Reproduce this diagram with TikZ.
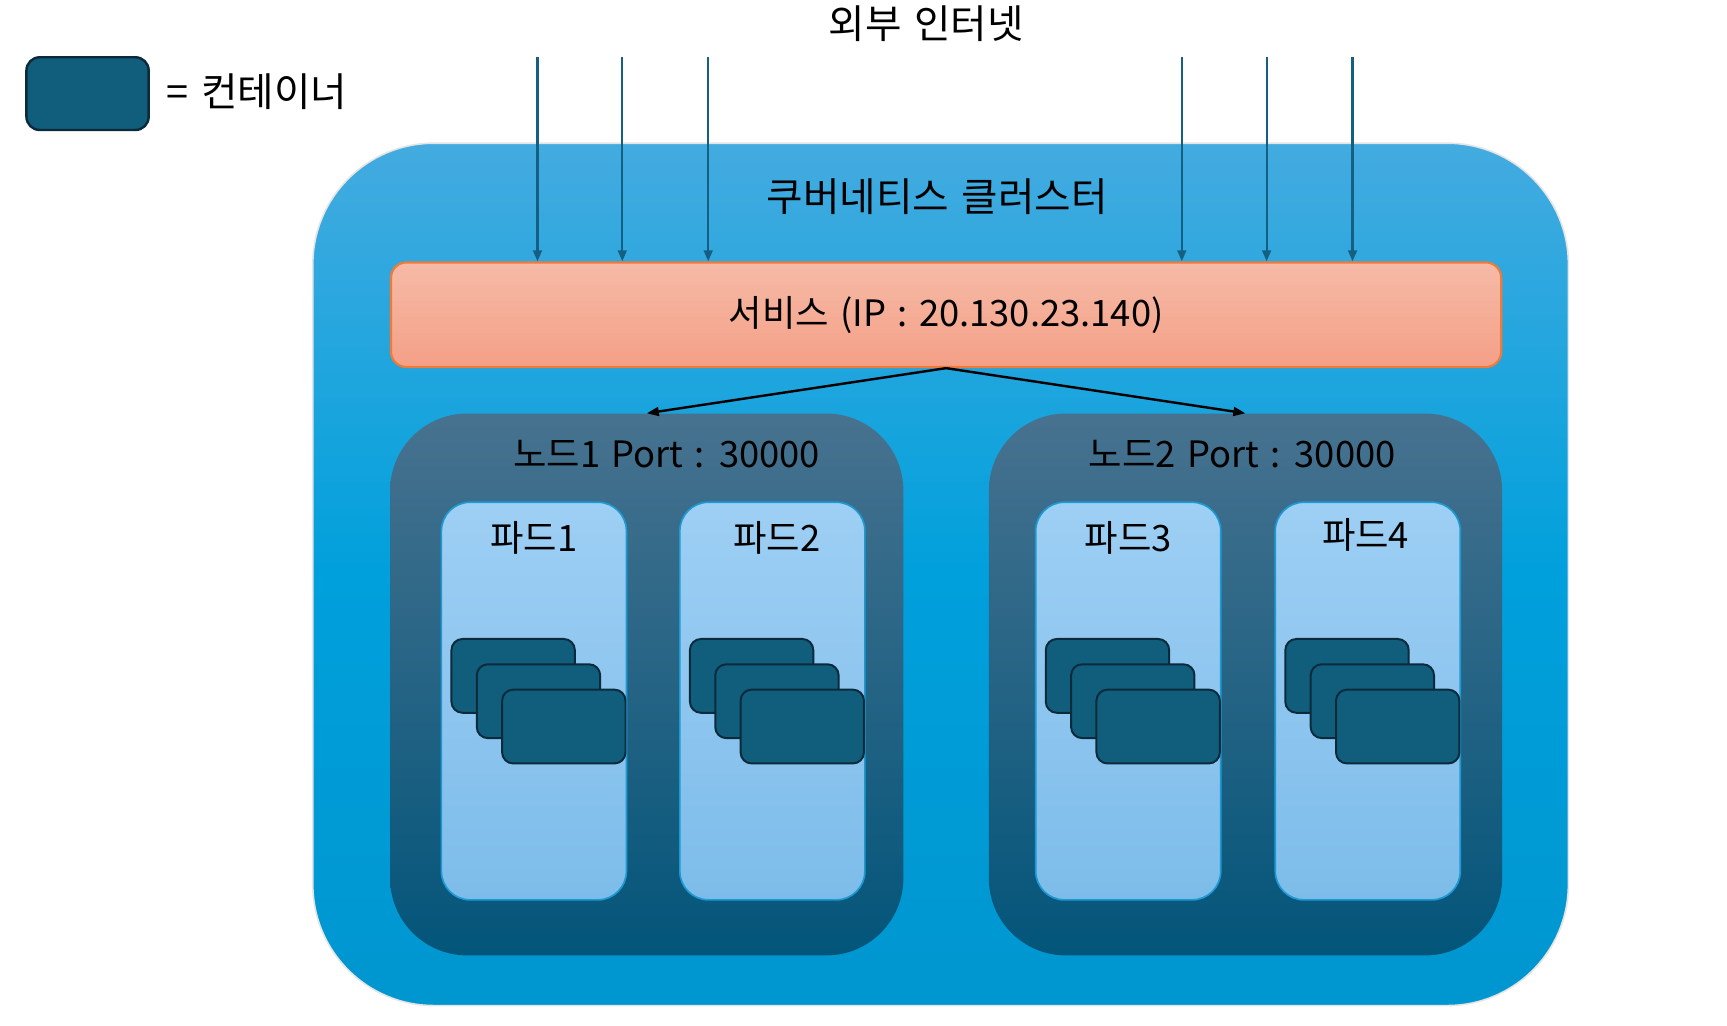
\documentclass[tikz,border=0pt]{standalone}
\usepackage{fontspec}
\setmainfont[WordSpace=1.4]{Noto Sans CJK KR}
\usetikzlibrary{arrows.meta,positioning}

\definecolor{cltop}{HTML}{43ABE0}
\definecolor{clmid}{HTML}{00A0DC}
\definecolor{clbot}{HTML}{0096D0}
\definecolor{svtop}{HTML}{F6BAA7}
\definecolor{svbot}{HTML}{F4A086}
\definecolor{svline}{HTML}{EE7B3A}
\definecolor{ndtop}{HTML}{47728F}
\definecolor{ndbot}{HTML}{03557A}
\definecolor{pdtop}{HTML}{9ECFF4}
\definecolor{pdbot}{HTML}{7DBCEA}
\definecolor{pdline}{HTML}{1C9AD4}
\definecolor{ctfill}{HTML}{115E7C}
\definecolor{ctline}{HTML}{0B2A3B}
\definecolor{inarrow}{HTML}{156082}

\begin{document}
\begin{tikzpicture}[
  x=1pt, y=-1pt,
  every node/.style={font=\fontsize{33}{38}\selectfont},
  ttl/.style={inner sep=0pt, text height=28pt, text depth=4pt},
  bigttl/.style={ttl, font=\fontsize{36}{40}\selectfont},
  cluster/.style={rounded corners=110pt, minimum width=1140pt, minimum height=783pt,
                  top color=cltop, bottom color=clbot, middle color=clmid,
                  draw=black!10, line width=1.5pt},
  svc/.style={rounded corners=14pt, minimum width=1008pt, minimum height=95pt,
              top color=svtop, bottom color=svbot, draw=svline, line width=2pt},
  knode/.style={rounded corners=70pt, minimum width=466pt, minimum height=492pt,
                top color=ndtop, bottom color=ndbot},
  pod/.style={rounded corners=26pt, minimum width=168pt, minimum height=361pt,
              top color=pdtop, bottom color=pdbot, draw=pdline, line width=1.5pt},
  ctr/.style={rounded corners=10pt, minimum width=112pt, minimum height=67pt,
              fill=ctfill, draw=ctline, line width=1.8pt},
  inarr/.style={-{Triangle[length=10pt,width=8pt]}, line width=2pt, draw=inarrow},
  outarr/.style={-{Triangle[length=11pt,width=8pt]}, line width=2.2pt},
]
  \useasboundingbox (0,0) rectangle (1568,931);

  % legend
  \node[ctr, minimum width=111pt, minimum height=66pt, line width=2.2pt, rounded corners=12pt] (leg) at (79.5,85) {};
  \node[bigttl, right=15pt of leg] (legtxt) {= 컨테이너};

  \node[bigttl] (net) at (841,23) {외부 인터넷};

  % cluster and service
  \node[cluster] (cl) at (854,521.5) {};
  \node[bigttl, below=35pt of cl.north, xshift=-3pt] (cltxt) {쿠버네티스 클러스터};
  \node[svc, below=108pt of cl.north, xshift=5pt] (sv) {서비스 (IP : 20.130.23.140)};

  % worker nodes
  \node[knode, below right=41pt and 0pt of sv.south west] (n1) {};
  \node[knode, below left=41pt and 0pt of sv.south east] (n2) {};
  \node[ttl, below=21pt of n1.north, xshift=18pt] (n1txt) {노드1 Port : 30000};
  \node[ttl, below=21pt of n2.north, xshift=-3pt] (n2txt) {노드2 Port : 30000};

  % pods
  \node[pod, below right=80pt and 46pt of n1.north west] (p1) {};
  \node[pod, right=47pt of p1] (p2) {};
  \node[pod, below right=80pt and 42pt of n2.north west] (p3) {};
  \node[pod, right=48pt of p3] (p4) {};
  \node[ttl, below=17pt of p1.north] (p1txt) {파드1};
  \node[ttl, below=17pt of p2.north, xshift=4pt] (p2txt) {파드2};
  \node[ttl, below=17pt of p3.north] (p3txt) {파드3};
  \node[ttl, below=15pt of p4.north, xshift=-2pt] (p4txt) {파드4};

  % containers
  \node[ctr, below right=124pt and 9pt of p1.north west] (c1a) {};
  \node[ctr, below right=23pt and 23pt of c1a.north west] (c1b) {};
  \node[ctr, below right=23pt and 23pt of c1b.north west] (c1c) {};
  \node[ctr, below right=124pt and 9pt of p2.north west] (c2a) {};
  \node[ctr, below right=23pt and 23pt of c2a.north west] (c2b) {};
  \node[ctr, below right=23pt and 23pt of c2b.north west] (c2c) {};
  \node[ctr, below right=124pt and 9pt of p3.north west] (c3a) {};
  \node[ctr, below right=23pt and 23pt of c3a.north west] (c3b) {};
  \node[ctr, below right=23pt and 23pt of c3b.north west] (c3c) {};
  \node[ctr, below right=124pt and 9pt of p4.north west] (c4a) {};
  \node[ctr, below right=23pt and 23pt of c4a.north west] (c4b) {};
  \node[ctr, below right=23pt and 23pt of c4b.north west] (c4c) {};

  % incoming traffic
  \coordinate (in1) at (488,52);
  \coordinate (in2) at (565,52);
  \coordinate (in3) at (643,52);
  \coordinate (in4) at (1073,52);
  \coordinate (in5) at (1150,52);
  \coordinate (in6) at (1228,52);
  \draw[inarr] (in1) -- (in1 |- sv.north);
  \draw[inarr] (in2) -- (in2 |- sv.north);
  \draw[inarr] (in3) -- (in3 |- sv.north);
  \draw[inarr] (in4) -- (in4 |- sv.north);
  \draw[inarr] (in5) -- (in5 |- sv.north);
  \draw[inarr] (in6) -- (in6 |- sv.north);

  \draw[outarr] (sv.south) -- (n1.north);
  \draw[outarr] (sv.south) -- (n2.north);
\end{tikzpicture}
\end{document}
